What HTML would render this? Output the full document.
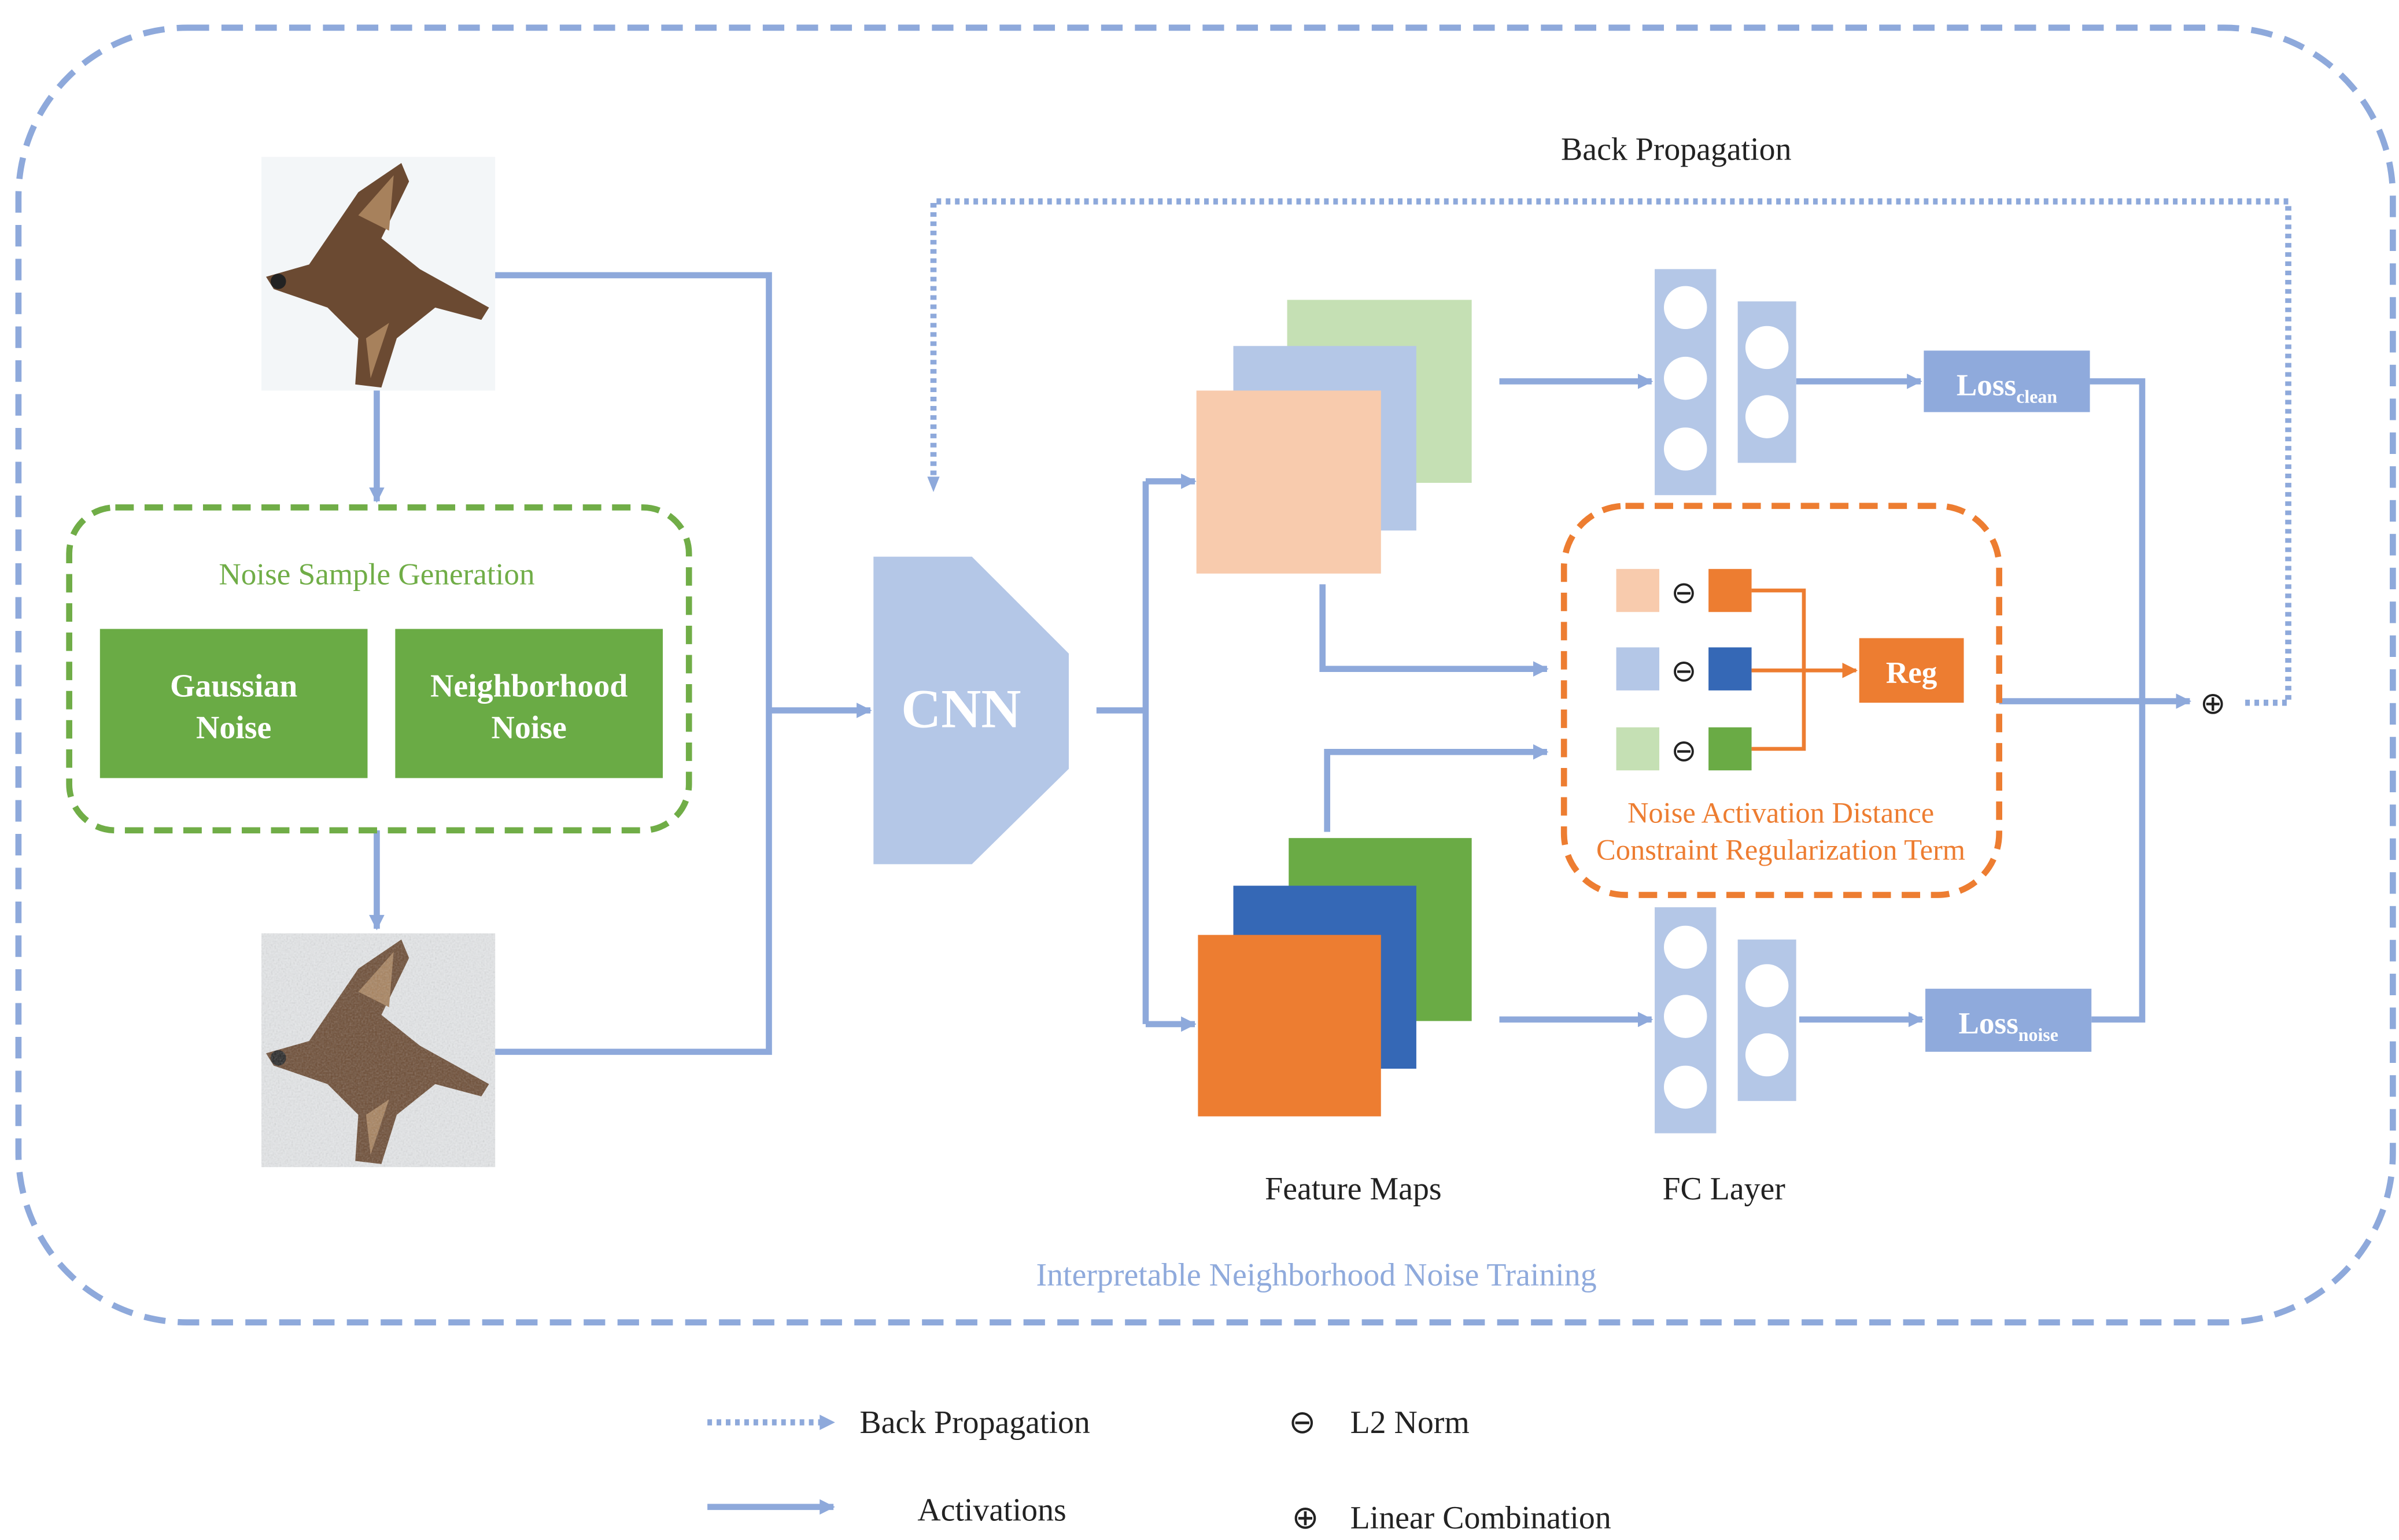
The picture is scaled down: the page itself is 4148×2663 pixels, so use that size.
<!DOCTYPE html>
<html><head><meta charset="utf-8"><style>html,body{margin:0;padding:0;background:#fff}svg{display:block}</style></head>
<body>
<svg width="4148" height="2663" viewBox="0 0 1560 1001.5" xmlns="http://www.w3.org/2000/svg" font-family="Liberation Serif, serif">
<defs>
<marker id="a" markerWidth="10" markerHeight="10" refX="9" refY="5" orient="auto" markerUnits="userSpaceOnUse"><path d="M0,0 L10,5 L0,10 z" fill="#8EA9DB"/></marker>
<marker id="o" markerWidth="10" markerHeight="10" refX="9" refY="5" orient="auto" markerUnits="userSpaceOnUse"><path d="M0,0 L10,5 L0,10 z" fill="#ED7D31"/></marker>
<filter id="n" x="0" y="0" width="1" height="1" filterUnits="objectBoundingBox"><feTurbulence type="fractalNoise" baseFrequency="0.9" numOctaves="1"/><feColorMatrix type="saturate" values="0"/><feComponentTransfer><feFuncA type="table" tableValues="0 0.35"/></feComponentTransfer><feComposite in2="SourceGraphic" operator="in"/></filter>
<clipPath id="c1" clipPathUnits="userSpaceOnUse"><rect x="170" y="102" width="152" height="152"/></clipPath>
<clipPath id="c2" clipPathUnits="userSpaceOnUse"><rect x="170" y="607" width="152" height="152"/></clipPath>
<g id="bird">
<path d="M0,0 L28,-8 L60,-55 L88,-74 L93,-62 L75,-25 L100,-5 L145,20 L140,28 L110,20 L85,40 L75,72 L58,70 L60,40 L40,20 L5,8 z" fill="#6b4a32"/>
<path d="M60,-40 L83,-66 L80,-30 z M65,40 L80,30 L68,66 z" fill="#a7815c"/>
<circle cx="8" cy="3" r="5" fill="#222"/>
</g>
</defs>
<rect x="12" y="18" width="1544" height="842" rx="110" fill="none" stroke="#8EA9DB" stroke-width="4" stroke-dasharray="14 8"/>
<!-- birds -->
<rect x="170" y="102" width="152" height="152" fill="#f3f6f8"/>
<g clip-path="url(#c1)"><g transform="translate(173,180)"><use href="#bird"/></g></g>
<rect x="170" y="607" width="152" height="152" fill="#e6e8ea"/>
<g clip-path="url(#c2)"><g transform="translate(173,685)"><use href="#bird"/></g></g>
<rect x="170" y="607" width="152" height="152" fill="#000" filter="url(#n)"/>
<g stroke="#8EA9DB" stroke-width="4" fill="none">
<path d="M245,254 V326" marker-end="url(#a)"/>
<path d="M245,540 V604" marker-end="url(#a)"/>
<path d="M322,179 H500 V684 H322"/>
<path d="M500,462 H566" marker-end="url(#a)"/>
<path d="M713,462 H745 M745,313 V666"/>
<path d="M745,313 H777" marker-end="url(#a)"/>
<path d="M745,666 H777" marker-end="url(#a)"/>
<path d="M975,248 H1074" marker-end="url(#a)"/>
<path d="M1168,248 H1249" marker-end="url(#a)"/>
<path d="M975,663 H1074" marker-end="url(#a)"/>
<path d="M1170,663 H1250" marker-end="url(#a)"/>
<path d="M1359,248 H1393 V663 H1360"/>
<path d="M860,380 V435 H1006" marker-end="url(#a)"/>
<path d="M863,541 V489 H1006" marker-end="url(#a)"/>
<path d="M1300,456 H1424" marker-end="url(#a)"/>
<path d="M460,980 H542" marker-end="url(#a)"/>
</g>
<g stroke="#8EA9DB" stroke-width="4" fill="none" stroke-dasharray="3 3">
<path d="M1460,457 H1488 V131 H607 V312"/>
<path d="M460,925 H535"/>
</g>
<path d="M603,310 L607,320 L611,310 z M533,920 L543,925 L533,930 z" fill="#8EA9DB"/>
<!-- green box -->
<rect x="45" y="330" width="403" height="210" rx="30" fill="none" stroke="#70AD47" stroke-width="4" stroke-dasharray="12 7"/>
<text x="245" y="380" text-anchor="middle" font-size="20" fill="#70AD47">Noise Sample Generation</text>
<rect x="65" y="409" width="174" height="97" fill="#6AAB45"/>
<rect x="257" y="409" width="174" height="97" fill="#6AAB45"/>
<g fill="#fff" font-weight="bold" font-size="21" text-anchor="middle">
<text x="152" y="453">Gaussian</text><text x="152" y="480">Noise</text>
<text x="344" y="453">Neighborhood</text><text x="344" y="480">Noise</text>
</g>
<polygon points="568,362 632,362 695,425 695,500 632,562 568,562" fill="#B4C7E7"/>
<text x="625" y="473" text-anchor="middle" font-size="36" font-weight="bold" fill="#fff">CNN</text>
<!-- feature maps -->
<rect x="837" y="195" width="120" height="119" fill="#C5E0B4"/>
<rect x="802" y="225" width="119" height="120" fill="#B4C7E7"/>
<rect x="778" y="254" width="120" height="119" fill="#F8CBAD"/>
<rect x="838" y="545" width="119" height="119" fill="#6AAB45"/>
<rect x="802" y="576" width="119" height="119" fill="#3568B6"/>
<rect x="779" y="608" width="119" height="118" fill="#ED7D31"/>
<!-- FC -->
<g fill="#B4C7E7"><rect x="1076" y="175" width="40" height="147"/><rect x="1130" y="196" width="38" height="105"/>
<rect x="1076" y="590" width="40" height="147"/><rect x="1130" y="611" width="38" height="105"/></g>
<g fill="#fff"><circle cx="1096" cy="200" r="14"/><circle cx="1096" cy="246" r="14"/><circle cx="1096" cy="292" r="14"/><circle cx="1149" cy="226" r="14"/><circle cx="1149" cy="271" r="14"/>
<circle cx="1096" cy="616" r="14"/><circle cx="1096" cy="661" r="14"/><circle cx="1096" cy="707" r="14"/><circle cx="1149" cy="641" r="14"/><circle cx="1149" cy="686" r="14"/></g>
<rect x="1251" y="228" width="108" height="40" fill="#8FAADC"/>
<rect x="1252" y="643" width="108" height="41" fill="#8FAADC"/>
<text x="1305" y="257" text-anchor="middle" fill="#fff" font-weight="bold" font-size="20">Loss<tspan font-size="12" dy="5">clean</tspan></text>
<text x="1306" y="672" text-anchor="middle" fill="#fff" font-weight="bold" font-size="20">Loss<tspan font-size="12" dy="5">noise</tspan></text>
<!-- orange box -->
<rect x="1017" y="329" width="283" height="253" rx="40" fill="none" stroke="#ED7D31" stroke-width="4" stroke-dasharray="12 7"/>
<rect x="1051" y="370" width="28" height="28" fill="#F8CBAD"/><rect x="1111" y="370" width="28" height="28" fill="#ED7D31"/>
<rect x="1051" y="421" width="28" height="28" fill="#B4C7E7"/><rect x="1111" y="421" width="28" height="28" fill="#3568B6"/>
<rect x="1051" y="473" width="28" height="28" fill="#C5E0B4"/><rect x="1111" y="473" width="28" height="28" fill="#6AAB45"/>
<g font-size="20" text-anchor="middle" fill="#222"><text x="1095" y="392">⊖</text><text x="1095" y="443">⊖</text><text x="1095" y="495">⊖</text></g>
<g stroke="#ED7D31" stroke-width="2.5" fill="none"><path d="M1139,384 H1173 V487 H1139"/><path d="M1139,436 H1207" marker-end="url(#o)"/></g>
<rect x="1209" y="415" width="68" height="42" fill="#ED7D31"/>
<text x="1243" y="444" text-anchor="middle" fill="#fff" font-weight="bold" font-size="20">Reg</text>
<text x="1158" y="535" text-anchor="middle" font-size="19" fill="#ED7D31">Noise Activation Distance</text>
<text x="1158" y="559" text-anchor="middle" font-size="19" fill="#ED7D31">Constraint Regularization Term</text>
<text x="1439" y="464" text-anchor="middle" font-size="20" fill="#222">⊕</text>
<text x="1090" y="104" text-anchor="middle" font-size="21" fill="#222">Back Propagation</text>
<text x="880" y="780" text-anchor="middle" font-size="21" fill="#222">Feature Maps</text>
<text x="1121" y="780" text-anchor="middle" font-size="21" fill="#222">FC Layer</text>
<text x="856" y="836" text-anchor="middle" font-size="21" fill="#8FAADC">Interpretable Neighborhood Noise Training</text>
<g font-size="21" fill="#222">
<text x="559" y="932">Back Propagation</text>
<text x="645" y="989" text-anchor="middle">Activations</text>
<text x="838" y="932">⊖</text><text x="878" y="932">L2  Norm</text>
<text x="840" y="994">⊕</text><text x="878" y="994">Linear Combination</text>
</g>
</svg>
</body></html>
